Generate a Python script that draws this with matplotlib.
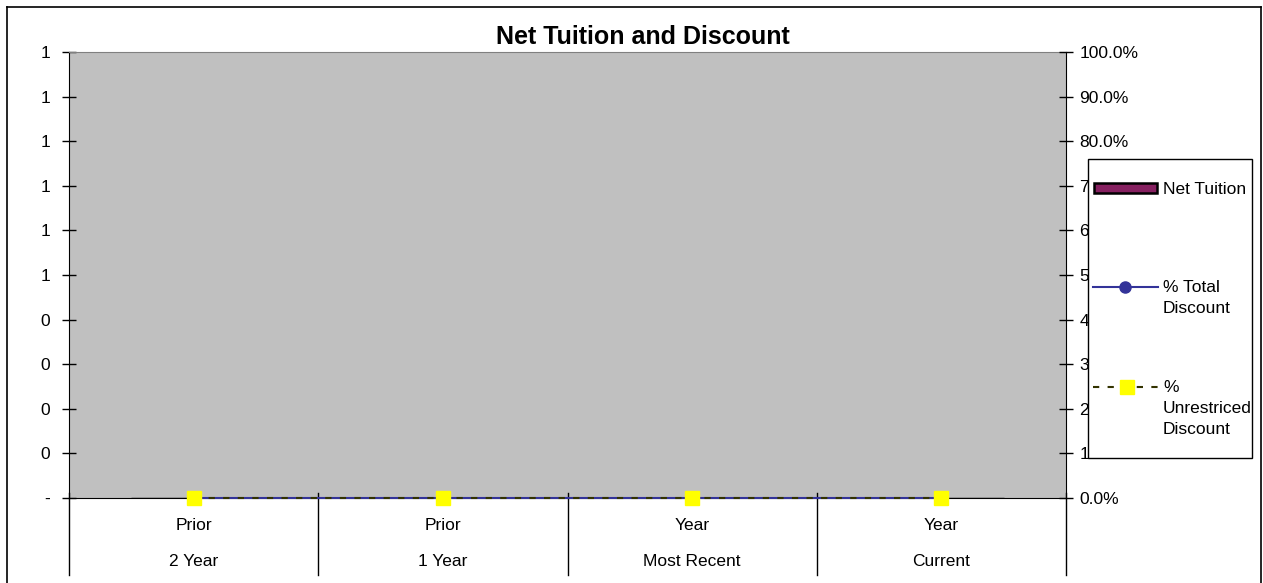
import matplotlib
matplotlib.use("Agg")
import matplotlib.pyplot as plt
import matplotlib.transforms as mtransforms
from matplotlib.lines import Line2D
from matplotlib.patches import Rectangle
import numpy as np

plt.rcParams['font.family'] = ['Liberation Sans', 'DejaVu Sans']

top_labels = ["Prior", "Prior", "Year", "Year"]
bottom_labels = ["2 Year", "1 Year", "Most Recent", "Current"]
net_tuition = [0, 0, 0, 0]
total_discount = [0.0, 0.0, 0.0, 0.0]
unrestricted_discount = [0.0, 0.0, 0.0, 0.0]
left_ticks = [0.0, 0.1, 0.2, 0.3, 0.4, 0.5, 0.6, 0.7, 0.8, 0.9, 1.0]
right_ticks = [0.0, 0.1, 0.2, 0.3, 0.4, 0.5, 0.6, 0.7, 0.8, 0.9, 1.0]
legend_labels = ["Net Tuition", "% Total\nDiscount", "%\nUnrestriced\nDiscount"]

BAR_COLOR = '#862060'
TOTAL_COLOR = '#333399'
UNRES_COLOR = '#333300'
FS = 12.5

W, H = 1263, 583
fig = plt.figure(figsize=(W / 100, H / 100), dpi=100)


def fx(x):
    return x / W


def fy(y):
    return 1 - y / H


# plot area in pixels
x0, x1, y0, y1 = 69, 1066, 52, 498
ax = fig.add_axes([fx(x0), fy(y1), (x1 - x0) / W, (y1 - y0) / H])
ax.set_facecolor('#C0C0C0')

# outer chart border (bottom edge falls outside the image)
for xs, ys in [([7, 7], [7, 590]), ([7, 1261], [7, 7]), ([1261, 1261], [7, 590])]:
    fig.add_artist(Line2D([fx(x) for x in xs], [fy(y) for y in ys],
                          color='black', lw=1.2))

pos = np.arange(len(top_labels)) + 0.5
ax.bar(pos, net_tuition, width=0.5, color=BAR_COLOR, edgecolor='black')
ax.set_xlim(0, len(top_labels))
ax.set_ylim(0, 1)
ax.set_xticks([])
ax.set_yticks(left_ticks)


def int_fmt(v):
    # excel style "#,##0" with zero shown as a dash
    if v == 0:
        return "-"
    return str(int(v + 0.5))


ax.set_yticklabels([int_fmt(v) for v in left_ticks], fontsize=FS)
ax.tick_params(axis='y', direction='inout', length=9.5, width=1, pad=9)

for s in ['left', 'right', 'bottom']:
    ax.spines[s].set_color('black')
ax.spines['top'].set_color('#808080')

ax2 = ax.twinx()
ax2.set_ylim(0, 1)
ax2.set_yticks(right_ticks)
ax2.set_yticklabels([f"{v * 100:.1f}%" for v in right_ticks], fontsize=FS)
ax2.tick_params(axis='y', direction='inout', length=9.5, width=1, pad=5)
for s in ax2.spines.values():
    s.set_visible(False)

ax2.plot(pos, total_discount, color=TOTAL_COLOR, lw=1.5, marker='o', ms=8,
         clip_on=False, zorder=3)
ax2.plot(pos, unrestricted_discount, color=UNRES_COLOR, lw=1.5, ls=(0, (3, 4)),
         marker='s', ms=9.5, mfc='#FFFF00', mec='#FFFF00', clip_on=False, zorder=4)

# category separators and two-level labels
for xv in range(len(top_labels) + 1):
    ax.axvline(xv, ymin=-0.173, ymax=0.011, color='black', lw=1, clip_on=False)
trans = mtransforms.blended_transform_factory(ax.transData, ax.transAxes)
for p, t, b in zip(pos, top_labels, bottom_labels):
    ax.text(p, -27 / 446, t, transform=trans, ha='center', va='center', fontsize=FS)
    ax.text(p, -63 / 446, b, transform=trans, ha='center', va='center', fontsize=FS)

fig.text(fx(643), fy(37), "Net Tuition and Discount", ha='center', va='center',
         fontsize=18, fontweight='bold')

# legend drawn by hand so the keys line up with the first text line
fig.add_artist(Rectangle((fx(1088), fy(458)), (1252 - 1088) / W, (458 - 159) / H,
                         facecolor='white', edgecolor='black', lw=1, zorder=5))
fig.add_artist(Rectangle((fx(1094), fy(193)), 63 / W, 10 / H,
                         facecolor=BAR_COLOR, edgecolor='black', lw=1.8, zorder=6))
fig.add_artist(Line2D([fx(1093), fx(1158)], [fy(287), fy(287)], color=TOTAL_COLOR,
                      lw=1.5, zorder=6))
fig.add_artist(Line2D([fx(1125)], [fy(287)], color=TOTAL_COLOR, marker='o', ms=8,
                      zorder=7))
fig.add_artist(Line2D([fx(1093), fx(1158)], [fy(387), fy(387)], color=UNRES_COLOR,
                      lw=1.5, ls=(0, (3, 4)), zorder=6))
fig.add_artist(Line2D([fx(1126.5)], [fy(387)], marker='s', ms=9.5, mfc='#FFFF00',
                      mec='#FFFF00', ls='none', zorder=7))
for lab, ytop in zip(legend_labels, [189, 287, 387]):
    for i, line in enumerate(lab.split("\n")):
        fig.text(fx(1163), fy(ytop + i * 21.5), line, ha='left', va='center',
                 fontsize=FS, zorder=8)

fig.savefig("out.png", dpi=100, facecolor='white')
